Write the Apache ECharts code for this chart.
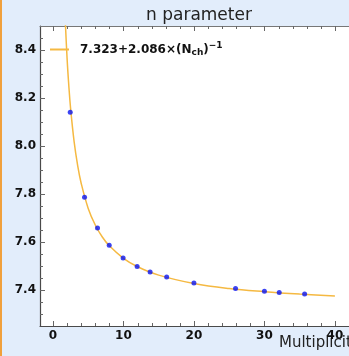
<!DOCTYPE html>
<html>
<head>
<meta charset="utf-8">
<script src="https://cdn.jsdelivr.net/npm/echarts@6/dist/echarts.min.js"></script>
<style>
  html, body { margin: 0; padding: 0; }
  #chart { width: 349px; height: 356px; }
</style>
</head>
<body>
<div id="chart"></div>
<script>
// measured points (multiplicity, n)
const multX = [2.45, 4.48, 6.32, 7.98, 9.95, 11.94, 13.78, 16.13, 20.0, 25.9, 30.0, 32.1, 35.7];
const nVals = [8.141, 7.786, 7.658, 7.586, 7.533, 7.498, 7.475, 7.454, 7.429, 7.406, 7.395, 7.390, 7.383];

// fit curve
const fitX = [1.7, 2, 2.25, 2.5, 3, 3.5, 4, 5, 6, 7, 8, 10, 12, 15, 20, 25, 30, 35, 40];
const fitY = [8.550, 8.366, 8.250, 8.157, 8.018, 7.919, 7.845, 7.740, 7.671, 7.621, 7.584, 7.532, 7.497, 7.462, 7.427, 7.406, 7.393, 7.383, 7.375];

// tick positions
const xMajorTicks = [0, 10, 20, 30, 40];
const xMinorTicks = [2, 4, 6, 8, 12, 14, 16, 18, 22, 24, 26, 28, 32, 34, 36, 38];
const yMajorTicks = [7.4, 7.6, 7.8, 8.0, 8.2, 8.4];
const yMinorTicks = [7.3, 7.35, 7.45, 7.5, 7.55, 7.65, 7.7, 7.75, 7.85, 7.9, 7.95,
                     8.05, 8.1, 8.15, 8.25, 8.3, 8.35, 8.45];

const fitName = 'fit';
const FONT = 'DejaVu Sans';

const xMin = -1.84, xMax = 42;
const yMin = 7.25, yMax = 8.5;

// [x, y, kind(0 = x tick, 1 = y tick), length]
const tickData = [].concat(
  xMajorTicks.map(v => [v, yMin, 0, 5]),
  xMinorTicks.map(v => [v, yMin, 0, 3]),
  yMajorTicks.map(v => [xMin, v, 1, 5]),
  yMinorTicks.map(v => [xMin, v, 1, 3])
);

function snap(v) { return Math.round(v) + 0.5; }

function renderTick(params, api) {
  const kind = api.value(2), len = api.value(3);
  const style = { stroke: '#666', lineWidth: 1 };
  if (kind === 0) {
    const b = api.coord([api.value(0), yMin]);
    const t = api.coord([api.value(0), yMax]);
    const x = snap(b[0]);
    return {
      type: 'group',
      children: [
        { type: 'line', shape: { x1: x, y1: b[1], x2: x, y2: b[1] - len }, style: style },
        { type: 'line', shape: { x1: x, y1: t[1], x2: x, y2: t[1] + len }, style: style }
      ]
    };
  }
  const l = api.coord([xMin, api.value(1)]);
  const y = snap(l[1]);
  return { type: 'line', shape: { x1: l[0], y1: y, x2: l[0] + len, y2: y }, style: style };
}

const axisLabelStyle = { color: '#111', fontFamily: FONT, fontWeight: 'bold', fontSize: 12, margin: 4 };

const chart = echarts.init(document.getElementById('chart'));
chart.setOption({
  animation: false,
  backgroundColor: '#e2edfb',
  title: {
    text: 'n parameter', left: 141, top: 2,
    textStyle: { fontFamily: FONT, fontWeight: 'normal', fontSize: 17, color: '#222' }
  },
  grid: {
    left: 40, top: 26, bottom: 30, right: -8,
    show: true, backgroundColor: '#fff', borderWidth: 0
  },
  legend: {
    data: [fitName],
    left: 45, top: 36,
    icon: 'rect', itemWidth: 19, itemHeight: 2,
    formatter: () => '{b|7.323+2.086×(N}{s|ch}{b|)}{p|−1}',
    textStyle: {
      padding: [0, 0, 0, 6],
      rich: {
        b: { fontFamily: FONT, fontWeight: 'bold', fontSize: 12, color: '#111', lineHeight: 18 },
        s: { fontFamily: FONT, fontWeight: 'bold', fontSize: 9, color: '#111', lineHeight: 18, padding: [6, 0, 0, 0] },
        p: { fontFamily: FONT, fontWeight: 'bold', fontSize: 9, color: '#111', lineHeight: 18, padding: [0, 0, 8, 0] }
      }
    }
  },
  xAxis: [
    {
      type: 'value', position: 'bottom', min: xMin, max: xMax, splitNumber: 5,
      axisLine: { show: true, onZero: false, lineStyle: { color: '#4a4a4a', width: 1.2 } },
      axisTick: { show: false },
      axisLabel: Object.assign({ showMinLabel: false, showMaxLabel: false }, axisLabelStyle),
      splitLine: { show: false }
    },
    {
      type: 'value', position: 'top', min: xMin, max: xMax, splitNumber: 5,
      axisLine: { show: true, onZero: false, lineStyle: { color: '#777', width: 1 } },
      axisTick: { show: false }, axisLabel: { show: false }, splitLine: { show: false }
    }
  ],
  yAxis: [
    {
      type: 'value', position: 'left', min: yMin, max: yMax, splitNumber: 6,
      axisLine: { show: true, onZero: false, lineStyle: { color: '#4a4a4a', width: 1.2 } },
      axisTick: { show: false },
      axisLabel: Object.assign({ showMinLabel: false, showMaxLabel: false, formatter: v => v.toFixed(1) }, axisLabelStyle),
      splitLine: { show: false }
    }
  ],
  graphic: [
    { type: 'rect', left: 0, top: 0, shape: { width: 2, height: 356 }, style: { fill: '#f0a03c' } },
    { type: 'text', left: 279, top: 336, style: { text: 'Multiplicity', fontFamily: FONT, fontSize: 15, fill: '#222' } }
  ],
  series: [
    {
      name: 'ticks', type: 'custom', xAxisIndex: 0, yAxisIndex: 0,
      data: tickData, renderItem: renderTick, clip: false, silent: true, z: 3
    },
    {
      name: fitName, type: 'line', xAxisIndex: 0, yAxisIndex: 0,
      data: fitX.map((x, i) => [x, fitY[i]]),
      smooth: 0.4, showSymbol: false, clip: true,
      lineStyle: { color: '#f5b942', width: 1.5 },
      itemStyle: { color: '#f5b942' }
    },
    {
      name: 'data', type: 'scatter', xAxisIndex: 0, yAxisIndex: 0,
      data: multX.map((x, i) => [x, nVals[i]]),
      symbolSize: 5, itemStyle: { color: '#0a14f0' }, z: 6
    }
  ]
});
</script>
</body>
</html>
